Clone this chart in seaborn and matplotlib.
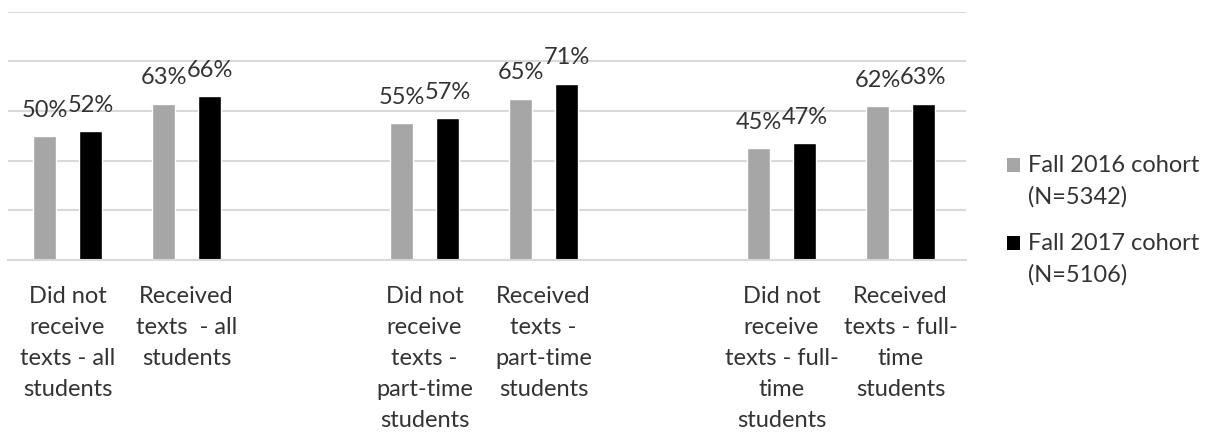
import matplotlib
matplotlib.use("Agg")
import matplotlib.pyplot as plt
import seaborn as sns
import pandas as pd
from matplotlib.patches import Rectangle

# ---- data ----
categories = [
    "Did not\nreceive\ntexts - all\nstudents",
    "Received\ntexts  - all\nstudents",
    "Did not\nreceive\ntexts -\npart-time\nstudents",
    "Received\ntexts -\npart-time\nstudents",
    "Did not\nreceive\ntexts - full-\ntime\nstudents",
    "Received\ntexts - full-\ntime\nstudents",
]
series_names = ["Fall 2016 cohort\n(N=5342)", "Fall 2017 cohort\n(N=5106)"]
fall_2016 = [50, 63, 55, 65, 45, 62]
fall_2017 = [52, 66, 57, 71, 47, 63]
y_ticks = [0, 20, 40, 60, 80, 100]

colors = ["#a6a6a6", "#000000"]
text_color = "#333333"
grid_color = "#d9d9d9"

# slot order with empty separator slots between the groups
order = [categories[0], categories[1], "gap_a",
         categories[2], categories[3], "gap_b",
         categories[4], categories[5]]
tick_labels = [c if not c.startswith("gap_") else "" for c in order]

df = pd.DataFrame({
    "category": categories * 2,
    "cohort": [series_names[0]] * len(categories) + [series_names[1]] * len(categories),
    "value": fall_2016 + fall_2017,
})

sns.set_style("white")
plt.rcParams["font.family"] = ["Lato", "DejaVu Sans"]
FS = 17

fig = plt.figure(figsize=(12.12, 4.38), dpi=100)
ax = fig.add_axes([8 / 1212, (438 - 260) / 438, 958 / 1212, (260 - 11.7) / 438])

sns.barplot(data=df, x="category", y="value", hue="cohort", order=order,
            hue_order=series_names, palette=colors, width=0.773, gap=0.5,
            saturation=1, legend=False, errorbar=None, ax=ax)

ax.set_xlim(-0.5, len(order) - 0.5 + 6 / 119)
ax.set_ylim(0, 100)
ax.set_yticks(y_ticks)
ax.set_yticklabels([])
ax.yaxis.grid(True, color=grid_color, linewidth=1.5)
ax.set_axisbelow(True)
for s in ["left", "right", "top"]:
    ax.spines[s].set_visible(False)
ax.spines["bottom"].set_color(grid_color)
ax.spines["bottom"].set_linewidth(1.5)
ax.set_xlabel("")
ax.set_ylabel("")
ax.set_xticks(range(len(order)))
ax.set_xticklabels(tick_labels, fontsize=FS, color=text_color, linespacing=1.6)
ax.tick_params(axis="x", length=0, pad=18.5)
ax.tick_params(axis="y", length=0)

for cont in ax.containers:
    ax.bar_label(cont, fmt="%.0f%%", padding=11, fontsize=FS, color=text_color)

# legend (marker aligned with first line, as in the reference)
legend_baselines = [172, 250]
for name, col, base in zip(series_names, colors, legend_baselines):
    fig.text(1028 / 1212, (438 - base + 17) / 438, name, fontsize=FS, color=text_color,
             va="top", ha="left", linespacing=1.6)
    fig.add_artist(Rectangle((1007 / 1212, (438 - base) / 438), 13 / 1212, 14 / 438,
                             transform=fig.transFigure, facecolor=col, edgecolor="none"))

fig.savefig("out.png", dpi=100)
